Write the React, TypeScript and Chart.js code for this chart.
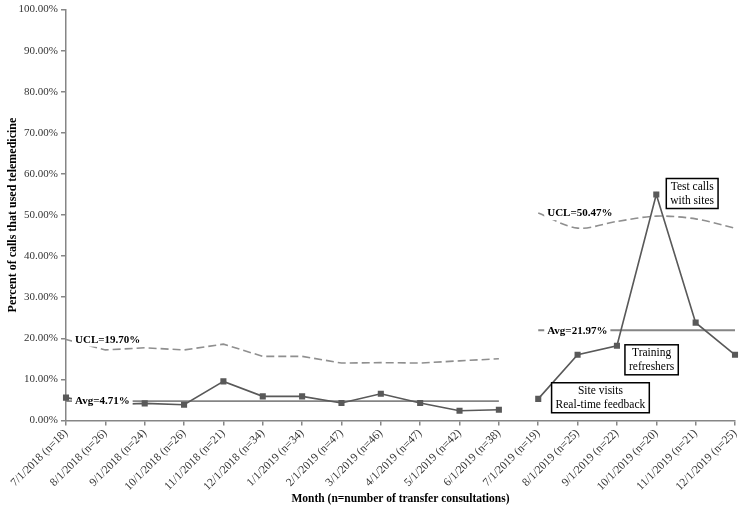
import { useEffect, useRef } from "react";
import { Chart, registerables } from "chart.js";

Chart.register(...registerables);

const months = [
  "7/1/2018 (n=18)",
  "8/1/2018 (n=26)",
  "9/1/2018 (n=24)",
  "10/1/2018 (n=26)",
  "11/1/2018 (n=21)",
  "12/1/2018 (n=34)",
  "1/1/2019 (n=34)",
  "2/1/2019 (n=47)",
  "3/1/2019 (n=46)",
  "4/1/2019 (n=47)",
  "5/1/2019 (n=42)",
  "6/1/2019 (n=38)",
  "7/1/2019 (n=19)",
  "8/1/2019 (n=25)",
  "9/1/2019 (n=22)",
  "10/1/2019 (n=20)",
  "11/1/2019 (n=21)",
  "12/1/2019 (n=25)",
];

const phase1Pct = [5.56, 3.85, 4.17, 3.85, 9.52, 5.88, 5.88, 4.26, 6.52, 4.26, 2.38, 2.63];
const phase2Pct = [5.26, 16.0, 18.18, 55.0, 23.81, 16.0];
const phase1Ucl = [19.7, 17.18, 17.69, 17.18, 18.58, 15.61, 15.61, 13.98, 14.08, 13.98, 14.52, 15.02];
const phase2Ucl = [50.47, 46.81, 48.45, 49.74, 49.07, 46.81];
const phase1Avg = 4.71;
const phase2Avg = 21.97;
const yTickValues = [0, 10, 20, 30, 40, 50, 60, 70, 80, 90, 100];

const phase1Len = phase1Pct.length;
const phase2Len = phase2Pct.length;
const pad1 = (arr: (number | null)[]) => [...arr, ...Array(phase2Len).fill(null)];
const pad2 = (arr: (number | null)[]) => [...Array(phase1Len).fill(null), ...arr];

const SERIF = '"Liberation Serif", "Times New Roman", serif';

const labelPlugin = {
  id: "ctlLabels",
  afterDatasetsDraw(chart: any) {
    const ctx = chart.ctx as CanvasRenderingContext2D;
    const xs = chart.scales.x;
    const ys = chart.scales.y;
    ctx.save();

    const valueLabels = [
      { text: `UCL=${phase1Ucl[0].toFixed(2)}%`, idx: 0, val: phase1Ucl[0] },
      { text: `Avg=${phase1Avg.toFixed(2)}%`, idx: 0, val: phase1Avg },
      { text: `UCL=${phase2Ucl[0].toFixed(2)}%`, idx: phase1Len, val: phase2Ucl[0] },
      { text: `Avg=${phase2Avg.toFixed(2)}%`, idx: phase1Len, val: phase2Avg },
    ];
    ctx.font = `bold 11px ${SERIF}`;
    ctx.textBaseline = "middle";
    ctx.textAlign = "left";
    for (const l of valueLabels) {
      const px = xs.getPixelForValue(l.idx) + 9;
      const py = ys.getPixelForValue(l.val);
      const w = ctx.measureText(l.text).width;
      ctx.fillStyle = "#ffffff";
      ctx.fillRect(px - 3, py - 7, w + 6, 14);
      ctx.fillStyle = "#000000";
      ctx.fillText(l.text, px, py + 0.5);
    }

    const notes = [
      { lines: ["Test calls", "with sites"], idx: phase1Len + 3, val: phase2Pct[3], dx: 10, dy: -16 },
      { lines: ["Training", "refreshers"], idx: phase1Len + 2, val: phase2Pct[2], dx: 8, dy: -1 },
      { lines: ["Site visits", "Real-time feedback"], idx: phase1Len + 1, val: phase2Pct[1], dx: -26, dy: 28 },
    ];
    ctx.font = `11.5px ${SERIF}`;
    ctx.textAlign = "center";
    for (const n of notes) {
      const px = xs.getPixelForValue(n.idx) + n.dx;
      const py = ys.getPixelForValue(n.val) + n.dy;
      const w = Math.max(...n.lines.map((t) => ctx.measureText(t).width)) + 8;
      const h = 30;
      ctx.fillStyle = "#ffffff";
      ctx.fillRect(px, py, w, h);
      ctx.strokeStyle = "#000000";
      ctx.lineWidth = 1.5;
      ctx.strokeRect(px, py, w, h);
      ctx.fillStyle = "#000000";
      n.lines.forEach((t, i) => {
        ctx.fillText(t, px + w / 2, py + 8 + i * 14);
      });
    }
    ctx.restore();
  },
};

export default function App() {
  const canvasRef = useRef<HTMLCanvasElement | null>(null);

  useEffect(() => {
    if (!canvasRef.current) return;
    const seriesColor = "#595959";
    const chart = new Chart(canvasRef.current, {
      type: "line",
      data: {
        labels: months,
        datasets: [
          {
            label: "Percent (phase 1)",
            data: pad1(phase1Pct),
            borderColor: seriesColor,
            backgroundColor: seriesColor,
            borderWidth: 1.6,
            pointStyle: "rect",
            pointRadius: 4.3,
            pointBorderWidth: 0,
            tension: 0,
            order: 1,
          },
          {
            label: "Percent (phase 2)",
            data: pad2(phase2Pct),
            borderColor: seriesColor,
            backgroundColor: seriesColor,
            borderWidth: 1.6,
            pointStyle: "rect",
            pointRadius: 4.3,
            pointBorderWidth: 0,
            tension: 0,
            order: 1,
          },
          {
            label: "Avg (phase 1)",
            data: pad1(phase1Pct.map(() => phase1Avg)),
            borderColor: "#858585",
            borderWidth: 1.8,
            pointRadius: 0,
            order: 3,
          },
          {
            label: "Avg (phase 2)",
            data: pad2(phase2Pct.map(() => phase2Avg)),
            borderColor: "#858585",
            borderWidth: 1.8,
            pointRadius: 0,
            order: 3,
          },
          {
            label: "UCL (phase 1)",
            data: pad1(phase1Ucl),
            borderColor: "#8f8f8f",
            borderWidth: 1.6,
            borderDash: [8, 4],
            pointRadius: 0,
            tension: 0,
            order: 2,
          },
          {
            label: "UCL (phase 2)",
            data: pad2(phase2Ucl),
            borderColor: "#8f8f8f",
            borderWidth: 1.6,
            borderDash: [8, 4],
            pointRadius: 0,
            tension: 0.3,
            order: 2,
          },
        ],
      },
      options: {
        animation: false,
        responsive: true,
        maintainAspectRatio: false,
        devicePixelRatio: 1,
        layout: { padding: { left: 0, right: 5, top: 0, bottom: 0 } },
        plugins: {
          legend: { display: false },
          tooltip: { enabled: false },
        },
        scales: {
          x: {
            type: "category",
            offset: false,
            border: { display: true, color: "#868686", width: 1.5 },
            grid: {
              display: true,
              drawOnChartArea: false,
              drawTicks: true,
              tickLength: 5,
              color: "#868686",
              lineWidth: 1.5,
            },
            ticks: {
              autoSkip: false,
              maxRotation: 45,
              minRotation: 45,
              padding: 1,
              color: "#333333",
              font: { family: SERIF, size: 11.5 },
            },
            title: {
              display: true,
              text: "Month (n=number of transfer consultations)",
              color: "#000000",
              font: { family: SERIF, size: 11.5, weight: "bold" },
              padding: { top: 4, bottom: 4 },
            },
            afterFit: (scale: any) => {
              scale.height = 89.5;
              scale.paddingLeft = 0;
              scale.paddingRight = 0;
            },
          },
          y: {
            min: 0,
            max: 100,
            border: { display: true, color: "#868686", width: 1.5 },
            grid: {
              display: true,
              drawOnChartArea: false,
              drawTicks: true,
              tickLength: 5,
              color: "#868686",
              lineWidth: 1.5,
            },
            afterBuildTicks: (scale: any) => {
              scale.ticks = yTickValues.map((v) => ({ value: v }));
            },
            ticks: {
              padding: 3,
              color: "#333333",
              font: { family: SERIF, size: 11 },
              callback: (v: any) => `${Number(v).toFixed(2)}%`,
            },
            title: {
              display: true,
              text: "Percent of calls that used telemedicine",
              color: "#000000",
              font: { family: SERIF, size: 12, weight: "bold" },
              padding: { top: 6, bottom: 4 },
            },
            afterFit: (scale: any) => {
              scale.width = 66;
            },
          },
        },
      },
      plugins: [labelPlugin],
    });
    return () => chart.destroy();
  }, []);

  return (
    <div style={{ position: "fixed", left: 0, top: 0, width: 740, height: 510, background: "#ffffff" }}>
      <canvas ref={canvasRef} />
    </div>
  );
}
